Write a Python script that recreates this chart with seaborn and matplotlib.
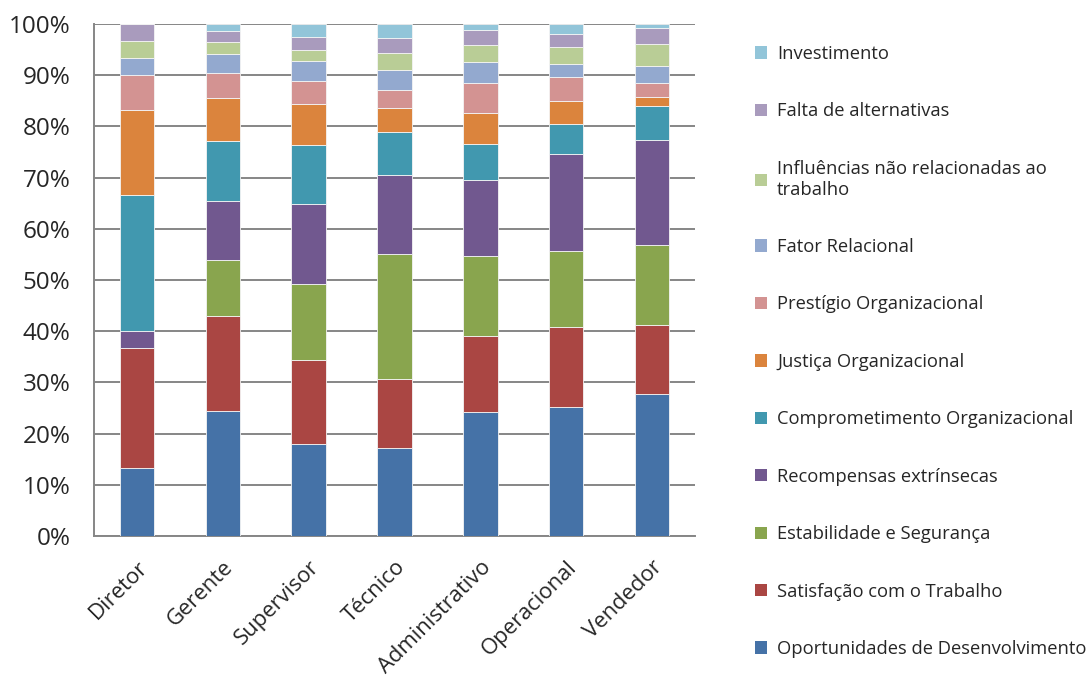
import pandas as pd
import seaborn as sns
import matplotlib.pyplot as plt
from matplotlib.patches import Patch
from matplotlib.ticker import FixedLocator

# categories (x axis)
cargos = ["Diretor", "Gerente", "Supervisor", "Técnico", "Administrativo", "Operacional", "Vendedor"]

# series, values in %, bottom of the stack first
oportunidades = [13.3, 24.5, 17.9, 17.1, 24.3, 25.2, 27.7]
satisfacao = [23.4, 18.5, 16.5, 13.6, 14.7, 15.7, 13.5]
estabilidade = [0.0, 10.9, 14.9, 24.4, 15.7, 14.7, 15.6]
recompensas = [3.3, 11.5, 15.6, 15.5, 14.9, 19.1, 20.5]
comprometimento = [26.6, 11.7, 11.4, 8.3, 7.0, 5.8, 6.6]
justica = [16.7, 8.4, 8.0, 4.6, 6.1, 4.5, 1.9]
prestigio = [6.7, 5.0, 4.6, 3.7, 5.8, 4.7, 2.6]
fator_relacional = [3.3, 3.7, 3.9, 3.9, 4.1, 2.5, 3.3]
influencias = [3.4, 2.2, 2.1, 3.3, 3.3, 3.3, 4.4]
falta_alternativas = [3.3, 2.2, 2.6, 2.9, 2.9, 2.6, 3.2]
investimento = [0.0, 1.4, 2.5, 2.7, 1.2, 1.9, 0.7]

fatores = [
    "Oportunidades de Desenvolvimento",
    "Satisfação com o Trabalho",
    "Estabilidade e Segurança",
    "Recompensas extrínsecas",
    "Comprometimento Organizacional",
    "Justiça Organizacional",
    "Prestígio Organizacional",
    "Fator Relacional",
    "Influências não relacionadas ao trabalho",
    "Falta de alternativas",
    "Investimento",
]
series = [oportunidades, satisfacao, estabilidade, recompensas, comprometimento, justica,
          prestigio, fator_relacional, influencias, falta_alternativas, investimento]
cores = ["#4572A7", "#AA4643", "#89A54E", "#71588F", "#4198AF", "#DB843D",
         "#D39392", "#93A9CF", "#B9CD96", "#A99BBD", "#92C5D9"]

rows = []
for fator, vals in zip(fatores, series):
    for cargo, v in zip(cargos, vals):
        rows.append({"cargo": cargo, "fator": fator, "pct": v})
df = pd.DataFrame(rows)
df["cargo"] = pd.Categorical(df["cargo"], categories=cargos, ordered=True)

sns.set_style("white")
plt.rcParams["font.family"] = ["Open Sans", "DejaVu Sans"]

fig = plt.figure(figsize=(10.87, 6.82), dpi=100)
ax = fig.add_axes([94 / 1087, 1 - 536 / 682, (695 - 94) / 1087, (536 - 24) / 682])

sns.histplot(
    data=df, x="cargo", hue="fator", weights="pct",
    hue_order=fatores[::-1], palette=dict(zip(fatores, cores)),
    multiple="stack", discrete=True, shrink=0.4,
    alpha=1, edgecolor="#f4f4f4", linewidth=0.6, legend=False, ax=ax, zorder=3,
)

ax.set_xlim(-0.5, len(cargos) - 0.5)
ax.set_ylim(0, 100)
ax.set_yticks(range(0, 101, 10))
ax.set_yticklabels([f"{v}%" for v in range(0, 101, 10)], fontsize=17.5)
ax.set_xticks(range(len(cargos)))
ax.set_xticklabels(cargos, rotation=45, ha="right", rotation_mode="anchor", fontsize=15.8)
ax.xaxis.set_minor_locator(FixedLocator([i - 0.5 for i in range(len(cargos) + 1)]))
ax.tick_params(axis="x", which="major", length=0, pad=15)
ax.tick_params(axis="x", which="minor", length=7, width=1.2, color="#868686", direction="out")
ax.tick_params(axis="y", length=7, width=1.2, color="#868686", direction="out", pad=10)
ax.set_xlabel("")
ax.set_ylabel("")
ax.grid(axis="y", color="#868686", linewidth=1.4, zorder=0)
ax.set_axisbelow(True)
for s in ["top", "right"]:
    ax.spines[s].set_visible(False)
for s in ["left", "bottom"]:
    ax.spines[s].set_color("#868686")
    ax.spines[s].set_linewidth(1.4)

# legend, top entry first
labels = [f if f != "Influências não relacionadas ao trabalho"
          else "Influências não relacionadas ao\ntrabalho" for f in fatores][::-1]
handles = [Patch(facecolor=c, edgecolor="none") for c in cores][::-1]
fig.legend(handles, labels, loc="upper left", bbox_to_anchor=(755 / 1087, 1 - 45 / 682),
           frameon=False, fontsize=13.2, handlelength=0.65, handleheight=0.65,
           handletextpad=0.55, labelspacing=2.15, borderaxespad=0, borderpad=0)

plt.savefig("out.png", dpi=100)
plt.close()
